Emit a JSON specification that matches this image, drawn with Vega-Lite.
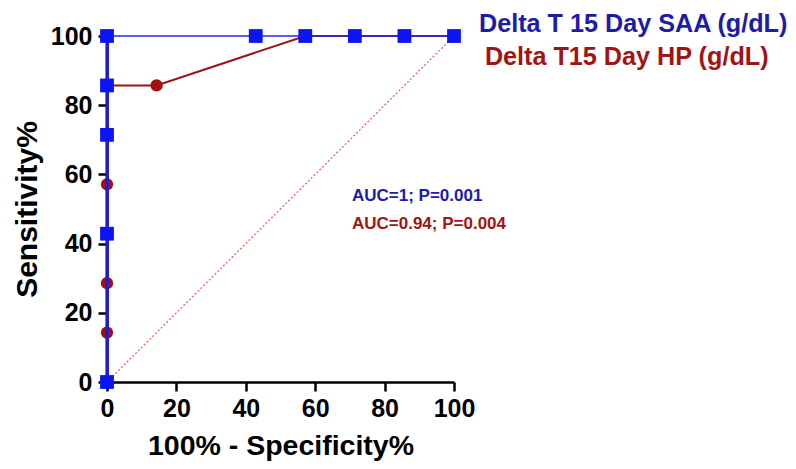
{
  "$schema": "https://vega.github.io/schema/vega-lite/v6.json",
  "autosize": "none",
  "width": 347,
  "height": 346,
  "padding": {"left": 107, "top": 36, "right": 342, "bottom": 87},
  "background": "white",
  "config": {"view": {"stroke": null}, "font": "Liberation Sans"},
  "datasets": {
    "roc": [
      {"series": "SAA", "fpr": 0, "sens": 0},
      {"series": "SAA", "fpr": 0, "sens": 42.86},
      {"series": "SAA", "fpr": 0, "sens": 71.43},
      {"series": "SAA", "fpr": 0, "sens": 85.71},
      {"series": "SAA", "fpr": 0, "sens": 100},
      {"series": "SAA", "fpr": 42.86, "sens": 100},
      {"series": "SAA", "fpr": 57.14, "sens": 100},
      {"series": "SAA", "fpr": 71.43, "sens": 100},
      {"series": "SAA", "fpr": 85.71, "sens": 100},
      {"series": "SAA", "fpr": 100, "sens": 100},
      {"series": "HP", "fpr": 0, "sens": 0},
      {"series": "HP", "fpr": 0, "sens": 14.29},
      {"series": "HP", "fpr": 0, "sens": 28.57},
      {"series": "HP", "fpr": 0, "sens": 57.14},
      {"series": "HP", "fpr": 0, "sens": 85.71},
      {"series": "HP", "fpr": 14.29, "sens": 85.71},
      {"series": "HP", "fpr": 57.14, "sens": 100},
      {"series": "HP", "fpr": 71.43, "sens": 100},
      {"series": "HP", "fpr": 85.71, "sens": 100},
      {"series": "HP", "fpr": 100, "sens": 100}
    ],
    "diag": [{"fpr": 0, "sens": 0}, {"fpr": 100, "sens": 100}],
    "legend": [
      {"group": "SAA", "label": "Delta T 15 Day SAA (g/dL)", "fpr": 107.2, "sens": 103.5},
      {"group": "HP", "label": "Delta T15 Day HP (g/dL)", "fpr": 108.9, "sens": 93.8}
    ],
    "auc": [
      {"group": "SAA", "label": "AUC=1; P=0.001", "fpr": 70.6, "sens": 53.8},
      {"group": "HP", "label": "AUC=0.94; P=0.004", "fpr": 70.6, "sens": 45.8}
    ]
  },
  "encoding": {
    "x": {
      "field": "fpr", "type": "quantitative",
      "scale": {"domain": [0, 100], "nice": false, "zero": false},
      "axis": {
        "title": "100% - Specificity%", "values": [0, 20, 40, 60, 80, 100],
        "grid": false, "domainColor": "black", "domainWidth": 2.5,
        "tickColor": "black", "tickWidth": 2.5, "tickSize": 9,
        "labelFont": "Liberation Sans", "labelFontWeight": "bold", "labelFontSize": 25, "labelColor": "black",
        "labelPadding": 5, "labelFlush": false,
        "titleFont": "Liberation Sans", "titleFontWeight": "bold", "titleFontSize": 28.5, "titleColor": "black",
        "titlePadding": 10
      }
    },
    "y": {
      "field": "sens", "type": "quantitative",
      "scale": {"domain": [0, 100], "nice": false, "zero": false},
      "axis": {
        "title": "Sensitivity%", "values": [0, 20, 40, 60, 80, 100],
        "grid": false, "domainColor": "black", "domainWidth": 2.5,
        "tickColor": "black", "tickWidth": 2.5, "tickSize": 9,
        "labelFont": "Liberation Sans", "labelFontWeight": "bold", "labelFontSize": 25, "labelColor": "black",
        "labelPadding": 6, "labelFlush": false,
        "titleFont": "Liberation Sans", "titleFontWeight": "bold", "titleFontSize": 30, "titleColor": "black",
        "titlePadding": 8
      }
    }
  },
  "layer": [
    {
      "data": {"name": "diag"},
      "mark": {"type": "line", "color": "#e66a60", "strokeWidth": 1.3, "strokeDash": [2, 2], "clip": false}
    },
    {
      "data": {"name": "roc"},
      "transform": [{"filter": "datum.series == 'HP'"}],
      "mark": {"type": "line", "color": "#9e1212", "strokeWidth": 2, "clip": false}
    },
    {
      "data": {"name": "roc"},
      "transform": [{"filter": "datum.series == 'HP'"}],
      "mark": {"type": "point", "shape": "circle", "filled": true, "opacity": 1, "color": "#9e1212", "size": 150, "clip": false}
    },
    {
      "data": {"name": "roc"},
      "transform": [{"filter": "datum.series == 'SAA' && datum.fpr == 0"}],
      "mark": {"type": "line", "color": "#1a1ae6", "strokeWidth": 3.2, "clip": false}
    },
    {
      "data": {"name": "roc"},
      "transform": [{"filter": "datum.series == 'SAA' && datum.sens == 100"}],
      "mark": {"type": "line", "color": "#2a2ae8", "strokeWidth": 1.3, "clip": false}
    },
    {
      "data": {"name": "roc"},
      "transform": [{"filter": "datum.series == 'SAA'"}],
      "mark": {"type": "point", "shape": "square", "filled": true, "opacity": 1, "color": "#0a14f5", "size": 190, "clip": false}
    },
    {
      "data": {"name": "legend"},
      "mark": {"type": "text", "align": "left", "baseline": "middle", "font": "Liberation Sans", "fontWeight": "bold", "fontSize": 25.2, "clip": false},
      "encoding": {
        "text": {"field": "label"},
        "color": {"field": "group", "type": "nominal", "scale": {"domain": ["SAA", "HP"], "range": ["#1c1caa", "#a11414"]}, "legend": null}
      }
    },
    {
      "data": {"name": "auc"},
      "mark": {"type": "text", "align": "left", "baseline": "middle", "font": "Liberation Sans", "fontWeight": "bold", "fontSize": 17, "clip": false},
      "encoding": {
        "text": {"field": "label"},
        "color": {"field": "group", "type": "nominal", "scale": {"domain": ["SAA", "HP"], "range": ["#1414d2", "#a11414"]}, "legend": null}
      }
    }
  ]
}
